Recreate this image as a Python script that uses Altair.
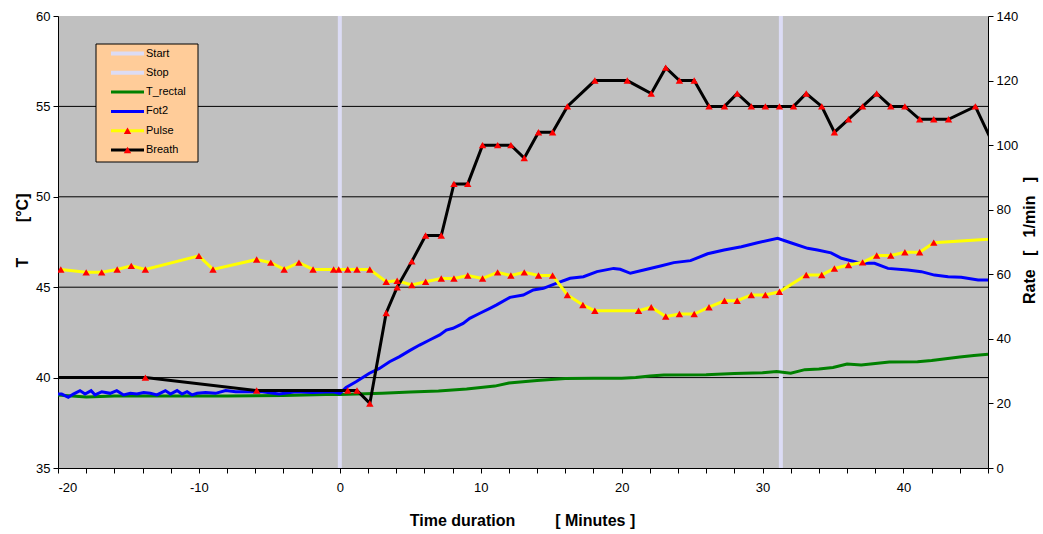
import altair as alt
import pandas as pd

# ---- measurements (time in minutes, 0 = start of exposure) ----
trectal_t = [-20, -18, -16, -12, -8, -4, -1, 0, 3, 5, 7, 9, 11, 12, 14, 16, 18, 20, 21, 22, 23,
             26, 28, 30, 31, 32, 33, 34, 35, 36, 37, 38, 39, 41, 42, 44, 45, 46]
trectal_v = [39.04, 38.93, 38.98, 38.98, 38.98, 39.01, 39.07, 39.07, 39.13, 39.2, 39.26, 39.37, 39.53,
             39.7, 39.84, 39.95, 39.96, 39.96, 40.0, 40.09, 40.14, 40.16, 40.23, 40.27, 40.34, 40.24,
             40.44, 40.48, 40.56, 40.75, 40.7, 40.78, 40.86, 40.88, 40.95, 41.14, 41.22, 41.29]

fot2_t = [-20.0, -19.74, -19.27, -18.91, -18.44, -18.08, -17.65, -17.37, -16.89, -16.3, -15.83,
          -15.35, -14.87, -14.4, -13.92, -13.45, -12.98, -12.38, -12.02, -11.55, -11.2, -10.84,
          -10.48, -10.13, -9.53, -8.82, -8.1, -7.39, -6.45, -5.5, -4.31, -3.12, -1.94, -0.51, 0.0,
          0.44, 1.15, 2.1, 2.81, 3.53, 4.24, 4.95, 5.66, 6.37, 7.09, 7.56, 8.03, 8.75, 9.22, 9.94,
          10.65, 11.13, 12.07, 13.02, 13.73, 14.45, 15.4, 16.34, 17.29, 18.25, 19.43, 19.9, 20.62,
          21.57, 22.76, 23.7, 24.89, 26.1, 27.27, 28.5, 29.64, 31.07, 32.0, 33.2, 33.9, 34.86, 35.6,
          37.0, 37.95, 38.9, 40.3, 41.27, 42.2, 43.17, 44.1, 45.3, 46.0]
fot2_v = [39.09, 39.09, 38.91, 39.09, 39.28, 39.09, 39.28, 39.04, 39.22, 39.13, 39.28,
          39.04, 39.13, 39.09, 39.17, 39.13, 39.04, 39.28, 39.09, 39.28, 39.09, 39.22,
          39.04, 39.13, 39.17, 39.13, 39.28, 39.22, 39.22, 39.22, 39.09, 39.22, 39.17, 39.22, 39.13,
          39.45, 39.77, 40.24, 40.51, 40.88, 41.16, 41.49, 41.8, 42.08, 42.36, 42.63, 42.73, 43.0,
          43.28, 43.56, 43.83, 44.02, 44.44, 44.57, 44.85, 44.94, 45.22, 45.49, 45.58, 45.86, 46.04,
          45.99, 45.77, 45.95, 46.17, 46.36, 46.47, 46.85, 47.06, 47.24, 47.46, 47.7, 47.46, 47.15,
          47.06, 46.9, 46.6, 46.32, 46.32, 46.04, 45.95, 45.86, 45.67, 45.58, 45.55, 45.4, 45.4]

pulse_t = [-19.8, -18.0, -16.9, -15.8, -14.8, -13.8, -10.0, -9.0, -5.9, -4.9, -3.95, -2.9, -1.9,
           -0.44, -0.08, 0.56, 1.22, 2.13, 3.29, 4.07, 5.11, 6.09, 7.2, 8.1, 9.08, 10.13, 11.2,
           12.14, 13.09, 14.1, 15.1, 16.15, 17.25, 18.1, 21.2, 22.1, 23.13, 24.1, 25.15, 26.2,
           27.3, 28.2, 29.2, 30.2, 31.2, 33.1, 34.2, 35.1, 36.1, 37.1, 38.1, 39.1, 40.1, 41.15,
           42.15, 50.0]
pulse_v = [61.5, 60.6, 60.6, 61.5, 62.6, 61.5, 65.7, 61.5, 64.6, 63.6, 61.5, 63.6, 61.5,
           61.5, 61.5, 61.5, 61.5, 61.5, 57.7, 58.0, 56.7, 57.7, 58.7, 58.7, 59.6, 58.7, 60.6,
           59.6, 60.6, 59.6, 59.6, 53.6, 50.5, 48.7, 48.7, 49.8, 46.9, 47.7, 47.7, 49.8,
           51.8, 51.8, 53.6, 53.6, 54.6, 59.8, 59.8, 61.8, 62.9, 63.7, 65.8, 65.8, 66.8, 66.8,
           69.8, 72.0]

breath_t = [-22, -13.8, -5.9, 0.56, 1.22, 2.13, 3.29, 4.07, 5.11, 6.09, 7.2, 8.1, 9.08, 10.13,
            11.2, 12.14, 13.09, 14.1, 15.1, 16.15, 18.1, 20.4, 22.1, 23.13, 24.1, 25.15, 26.2,
            27.3, 28.2, 29.2, 30.2, 31.2, 32.2, 33.1, 34.2, 35.1, 36.1, 37.1, 38.1, 39.1, 40.1,
            41.15, 42.15, 43.2, 45.1, 46.4]
breath_v = [28, 28, 24, 24, 24, 20, 48, 56, 64, 72, 72, 88, 88, 100,
            100, 100, 96, 104, 104, 112, 120, 120, 116, 124, 120, 120, 112,
            112, 116, 112, 112, 112, 112, 116, 112, 104, 108, 112, 116, 112, 112,
            108, 108, 108, 112, 100]

event_names = ["Start", "Stop"]
event_t = [0, 31.3]
grid_temps = [40, 45, 50, 55]

legend_names = ["Start", "Stop", "T_rectal", "Fot2", "Pulse", "Breath"]

# ---- styling ----
COLORS = {"Start": "#DCDCF5", "Stop": "#DCDCF5", "T_rectal": "#008000",
          "Fot2": "#0000FF", "Pulse": "#FFFF00", "Breath": "#000000"}
FONT = "Liberation Sans Narrow, Arial Narrow, Liberation Sans, Arial"
NBSP = "\u00a0"

temp_df = pd.concat([
    pd.DataFrame({"t": trectal_t, "v": trectal_v, "series": "T_rectal"}),
    pd.DataFrame({"t": fot2_t, "v": fot2_v, "series": "Fot2"}),
])
rate_df = pd.concat([
    pd.DataFrame({"t": pulse_t, "v": pulse_v, "series": "Pulse"}),
    pd.DataFrame({"t": breath_t, "v": breath_v, "series": "Breath"}),
])
event_df = pd.DataFrame({"t": event_t, "series": event_names})
grid_df = pd.DataFrame({"v": grid_temps})

series_scale = alt.Scale(domain=list(COLORS.keys()), range=list(COLORS.values()))

x_enc = alt.X(
    "t:Q",
    scale=alt.Scale(domain=[-20, 46], nice=False, zero=False),
    axis=alt.Axis(
        values=list(range(-20, 47, 2)),
        labelExpr="datum.value % 10 == 0 ? '' + datum.value : ''",
        title="Time duration" + NBSP * 9 + "[ Minutes ]",
        titleX=464, titleY=52, titleBaseline="middle", titleFontSize=16,
        tickSize=5, labelPadding=8, grid=False,
    ),
)

temp_y = alt.Y(
    "v:Q",
    scale=alt.Scale(domain=[35, 60], nice=False, zero=False),
    axis=alt.Axis(
        orient="left", values=[35, 40, 45, 50, 55, 60], grid=False,
        title="T" + NBSP * 8 + "[°C]", titleAngle=270, titleX=-36, titleY=214,
        titleBaseline="middle", titleFontSize=16, tickSize=5, labelPadding=3,
    ),
)

rate_y = alt.Y(
    "v:Q",
    scale=alt.Scale(domain=[0, 140], nice=False, zero=False),
    axis=alt.Axis(
        orient="right", values=list(range(0, 141, 20)), grid=False,
        title="Rate" + NBSP * 3 + "[" + NBSP * 3 + "1/min" + NBSP * 3 + "]",
        titleAngle=270, titleX=41, titleY=224,
        titleBaseline="middle", titleFontSize=16, tickSize=5, labelPadding=3,
    ),
)

gridlines = alt.Chart(grid_df).mark_rule(color="#000000", strokeWidth=1).encode(y=temp_y)

events = alt.Chart(event_df).mark_rule(strokeWidth=4).encode(
    x=x_enc,
    color=alt.Color("series:N", scale=series_scale, legend=None),
)

temp_lines = alt.Chart(temp_df).mark_line(strokeWidth=3, clip=True).encode(
    x=x_enc, y=temp_y,
    color=alt.Color("series:N", scale=series_scale, legend=None),
    detail="series:N",
)

rate_lines = alt.Chart(rate_df).mark_line(strokeWidth=3, clip=True).encode(
    x=x_enc, y=rate_y,
    color=alt.Color("series:N", scale=series_scale, legend=None),
    detail="series:N",
)

rate_marks = alt.Chart(rate_df).mark_point(
    shape="triangle-up", filled=True, color="#FF0000", opacity=1, size=55, clip=True
).encode(x=x_enc, y=rate_y)

temp_layer = alt.layer(gridlines, events, temp_lines)
rate_layer = alt.layer(rate_lines, rate_marks)

# ---- legend box (pixel positions inside the plot area) ----
ROW0, ROW_STEP = 37.5, 19.3
legend_df = pd.DataFrame({
    "name": legend_names,
    "col": [COLORS[n] for n in legend_names],
    "sw": [4 if n in ("Start", "Stop") else 3 for n in legend_names],
    "marker": [n in ("Pulse", "Breath") for n in legend_names],
})
legend_df["py"] = [ROW0 + i * ROW_STEP for i in range(len(legend_df))]
legend_df["x1"] = 53
legend_df["x2"] = 86
legend_df["xm"] = 69.5
legend_df["xt"] = 88

legend_box = alt.Chart(alt.Data(values=[{}])).mark_rect(
    fill="#FFCC99", stroke="#000000", strokeWidth=1
).encode(x=alt.value(38), x2=alt.value(140), y=alt.value(28), y2=alt.value(146))

legend_lines = alt.Chart(legend_df).mark_rule().encode(
    x=alt.X("x1:Q", scale=None), x2="x2:Q",
    y=alt.Y("py:Q", scale=None),
    color=alt.Color("col:N", scale=None),
    strokeWidth=alt.StrokeWidth("sw:Q", scale=None),
)
legend_marks = alt.Chart(legend_df).transform_filter("datum.marker").mark_point(
    shape="triangle-up", filled=True, color="#FF0000", opacity=1, size=55
).encode(
    x=alt.X("xm:Q", scale=None),
    y=alt.Y("py:Q", scale=None),
)
legend_text = alt.Chart(legend_df).mark_text(
    align="left", baseline="middle", fontSize=11, font=FONT, color="#000000"
).encode(
    x=alt.X("xt:Q", scale=None),
    y=alt.Y("py:Q", scale=None),
    text="name:N",
)
legend_layer = alt.layer(legend_box, legend_lines, legend_marks, legend_text)

chart = alt.layer(temp_layer, rate_layer, legend_layer).resolve_scale(
    y="independent"
).properties(
    width=930, height=452,
    autosize=alt.AutoSizeParams(type="none"),
    padding={"left": 58, "top": 16, "right": 55, "bottom": 66},
    background="#FFFFFF",
).configure_view(
    fill="#C0C0C0", strokeWidth=0
).configure_axis(
    domainColor="#000000", tickColor="#000000", labelColor="#000000", titleColor="#000000",
    labelFont=FONT, titleFont=FONT, labelFontSize=13, titleFontWeight="bold",
    domainWidth=1, tickWidth=1,
)

chart.save("out.html", embed_options={"renderer": "svg", "actions": False})
